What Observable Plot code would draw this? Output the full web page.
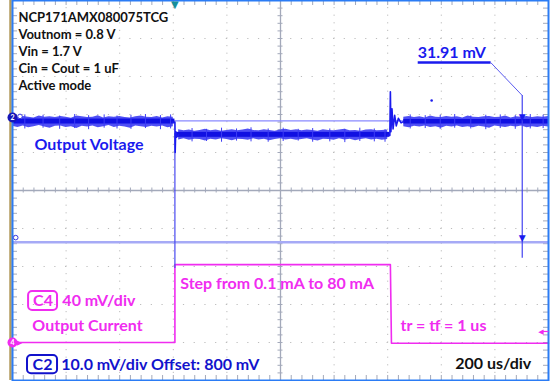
<!DOCTYPE html>
<html><head><meta charset="utf-8">
<script src="https://cdn.jsdelivr.net/npm/d3@7"></script>
<script src="https://cdn.jsdelivr.net/npm/@observablehq/plot@0.6"></script>
<style>body{margin:0;background:#fff} svg{display:block}</style>
</head><body><div id="chart"></div>
<script>
// ---- scope layout: 10 x 10 divisions, y in divisions from centre ----
const gridX = [1, 2, 3, 4, 6, 7, 8, 9];
const gridY = [-4, -3, -2, -1, 1, 2, 3, 4];
const minorX = d3.range(0, 10.001, 0.2);
const minorY = d3.range(-5, 5.001, 0.2);

// ---- C2 output voltage (divisions), noise envelope ----
const tA0 = 0.0, tB0 = 3.1, tC0 = 7.3, dt = 0.1;
const upperA = [1.94,1.92,1.95,1.93,1.91,1.96,1.93,1.94,1.92,1.95,1.93,1.90,1.96,1.94,1.92,1.93,1.97,1.91,1.94,1.93,1.95,1.92,1.91,1.94,1.96,1.93,1.92,1.95,1.91,1.94,1.93];
const lowerA = [1.69,1.66,1.70,1.65,1.68,1.71,1.67,1.64,1.69,1.70,1.66,1.68,1.63,1.69,1.67,1.70,1.65,1.68,1.71,1.66,1.69,1.67,1.64,1.70,1.68,1.66,1.69,1.67,1.70,1.65,1.68];
const upperB = [1.60,1.57,1.59,1.56,1.58,1.61,1.57,1.59,1.56,1.58,1.60,1.57,1.59,1.62,1.58,1.57,1.60,1.58,1.56,1.59,1.61,1.58,1.60,1.57,1.59,1.58,1.56,1.60,1.58,1.57,1.59,1.61,1.57,1.58,1.56,1.59,1.60,1.57,1.58,1.59];
const lowerB = [1.33,1.36,1.32,1.35,1.34,1.30,1.35,1.33,1.36,1.34,1.31,1.35,1.34,1.32,1.36,1.33,1.35,1.31,1.34,1.36,1.33,1.35,1.32,1.34,1.36,1.33,1.30,1.35,1.34,1.32,1.36,1.33,1.35,1.31,1.34,1.36,1.33,1.35,1.32,1.34];
const upperC = [1.93,1.95,1.92,1.94,1.91,1.96,1.93,1.92,1.95,1.93,1.94,1.91,1.96,1.93,1.92,1.94,1.95,1.92,1.93,1.96,1.91,1.94,1.93,1.95,1.92,1.94,1.93,1.95];
const lowerC = [1.68,1.65,1.69,1.67,1.70,1.66,1.68,1.64,1.69,1.67,1.70,1.66,1.68,1.65,1.69,1.67,1.64,1.70,1.68,1.66,1.69,1.67,1.70,1.65,1.68,1.66,1.69,1.67];
// dense core of the noise band per segment [from, to, low, high]
const coreSeg = [[0, 3.03, 1.75, 1.88], [3.06, 7.04, 1.40, 1.53], [7.3, 10, 1.75, 1.87]];
// isolated noise spikes [t, low, high]
const spikes = [
  [0.23,1.62,1.99],[0.57,1.64,1.98],[0.88,1.61,1.96],[1.16,1.63,2.0],[1.42,1.60,1.97],[1.71,1.64,1.99],[1.95,1.62,1.96],
  [2.21,1.61,1.98],[2.48,1.63,2.0],[2.76,1.60,1.97],[2.95,1.62,1.99],
  [3.35,1.28,1.63],[3.62,1.29,1.61],[3.9,1.27,1.64],[4.18,1.30,1.62],[4.45,1.28,1.65],[4.77,1.27,1.62],[5.05,1.29,1.64],
  [5.33,1.30,1.61],[5.6,1.27,1.63],[5.92,1.28,1.62],[6.2,1.26,1.61],[6.48,1.29,1.64],[6.75,1.28,1.62],[6.95,1.27,1.60],
  [7.42,1.62,1.99],[7.7,1.63,1.97],[7.98,1.61,1.98],[8.25,1.64,2.0],[8.55,1.62,1.96],[8.83,1.60,1.98],[9.1,1.63,1.99],
  [9.38,1.61,1.97],[9.66,1.62,2.0],[9.9,1.63,1.98]
];
const dropT = [[2.98,1.80],[3.03,1.80],[3.035,1.0],[3.045,1.55],[3.06,1.40],[3.1,1.47]];
const riseT = [[7.0,1.46],[7.04,1.45],[7.05,2.6],[7.06,1.55],[7.08,2.15],[7.10,1.62],[7.13,1.98],[7.16,1.70],[7.2,1.9],[7.25,1.78],[7.3,1.82]];

// ---- C4 output current (divisions) ----
const currT = [0, 3.03, 3.03, 7.05, 7.07, 10];
const currV = [-4.0, -4.0, -1.95, -1.95, -4.02, -4.02];

// ---- cursors ----
const cursorY = [1.83, -1.36];
const cursorX = 9.51;
const cursorLabel = "31.91 mV";
const trigX = 3.03;

// ---- labels ----
const infoLines = ["NCP171AMX080075TCG", "Voutnom = 0.8 V", "Vin = 1.7 V", "Cin = Cout = 1 uF", "Active mode"];
const infoY = [4.55, 4.105, 3.65, 3.21, 2.765];

const band = (t0, up, lo) => up.map((u, i) => ({t: t0 + i * dt, hi: u, lo: lo[i]}));
const bandA = band(tA0, upperA, lowerA), bandB = band(tB0, upperB, lowerB), bandC = band(tC0, upperC, lowerC);
const curr = currT.map((t, i) => ({t, v: currV[i]}));

const BLUE = "#1a1aee", EDGE = "#3c3cf4", MAG = "#f02cf0", NAVY = "#1212cc";
const px = 1 / 53.6, py = 1 / 38;

const chart = Plot.plot({
  width: 553, height: 381,
  marginLeft: 12, marginRight: 5, marginTop: 0, marginBottom: 1,
  x: {domain: [0, 10], axis: null},
  y: {domain: [-5, 5], axis: null},
  style: {fontFamily: "Lato", background: "#fff", overflow: "visible"},
  marks: [
    // dotted grid
    Plot.ruleX(gridX, {stroke: "#bcbcbc", strokeWidth: 1, strokeDasharray: "1.2,6.4", strokeDashoffset: 0.6}),
    Plot.ruleY(gridY, {stroke: "#bcbcbc", strokeWidth: 1, strokeDasharray: "1.2,9.52", strokeDashoffset: 0.6}),
    // centre axes
    Plot.ruleX([5], {stroke: "#a3a9ba", strokeWidth: 1.3}),
    Plot.ruleY([0], {stroke: "#a3a9ba", strokeWidth: 1.3}),
    Plot.ruleX(minorX, {x: d => d, y1: 2.5 * py, y2: -2.5 * py, stroke: "#a3a9ba", strokeWidth: 1}),
    Plot.ruleY(minorY, {y: d => d, x1: 5 - 2.5 * px, x2: 5 + 2.5 * px, stroke: "#a3a9ba", strokeWidth: 1}),
    // edge ticks
    Plot.ruleX(minorX, {x: d => d, y1: 5, y2: 5 - 5 * py, stroke: "#a3a9ba"}),
    Plot.ruleX(minorX, {x: d => d, y1: -5, y2: -5 + 5 * py, stroke: "#a3a9ba"}),
    Plot.ruleY(minorY, {y: d => d, x1: 0, x2: 5 * px, stroke: "#a3a9ba"}),
    Plot.ruleY(minorY, {y: d => d, x1: 10, x2: 10 - 5 * px, stroke: "#a3a9ba"}),

    // cursors
    Plot.ruleY([cursorY[0]], {stroke: "#8a8aff", strokeWidth: 1.2}),
    Plot.ruleY([cursorY[1]], {stroke: "#a6aaf6", strokeWidth: 2.6}),

    // C4 trace
    Plot.line(curr, {x: "t", y: "v", stroke: MAG, strokeWidth: 1.6}),

    // trigger link line
    Plot.ruleX([trigX], {y1: 1.5, y2: -2.05, stroke: "#4848f0", strokeWidth: 1.2}),

    // C2 trace
    Plot.areaY(bandA, {x: "t", y1: "lo", y2: "hi", fill: EDGE, fillOpacity: 0.9}),
    Plot.areaY(bandB, {x: "t", y1: "lo", y2: "hi", fill: EDGE, fillOpacity: 0.9}),
    Plot.areaY(bandC, {x: "t", y1: "lo", y2: "hi", fill: EDGE, fillOpacity: 0.9}),
    Plot.rect(coreSeg, {x1: d => d[0], x2: d => d[1], y1: d => d[2], y2: d => d[3], fill: "#1010e2"}),
    Plot.ruleX(spikes, {x: d => d[0], y1: d => d[1], y2: d => d[2], stroke: EDGE, strokeWidth: 1}),
    Plot.line(dropT, {x: d => d[0], y: d => d[1], stroke: BLUE, strokeWidth: 1.6}),
    Plot.line(riseT, {x: d => d[0], y: d => d[1], stroke: BLUE, strokeWidth: 1.6}),
    Plot.dot([[7.82, 2.37]], {x: d => d[0], y: d => d[1], r: 1.3, fill: BLUE}),

    // vertical cursor + label
    Plot.ruleX([cursorX], {y1: 2.5, y2: -1.78, stroke: "#4444f0", strokeWidth: 1.2}),
    Plot.text([cursorY[0], cursorY[1]], {x: cursorX, y: d => d, text: () => "▼", fill: BLUE, fontSize: 9, fontFamily: "DejaVu Sans", dy: -4}),
    Plot.link([0], {x1: 7.56, x2: 8.92, y1: 3.37, y2: 3.37, stroke: BLUE, strokeWidth: 2.5}),
    Plot.link([0], {x1: 8.92, y1: 3.37, x2: cursorX, y2: 2.5, stroke: "#5a5af0", strokeWidth: 1}),
    Plot.text([cursorLabel], {x: 7.56, y: 3.62, text: d => d, textAnchor: "start", fill: BLUE, fontSize: 16, fontWeight: 700}),

    // info text
    Plot.text(infoLines, {x: 0.11, y: (d, i) => infoY[i], text: d => d, textAnchor: "start", fill: "#111", fontSize: 13, fontWeight: 700}),
    Plot.text(["Output Voltage"], {x: 0.41, y: 1.21, text: d => d, textAnchor: "start", fill: BLUE, fontSize: 16, fontWeight: 700}),
    Plot.text(["Step from 0.1 mA to 80 mA"], {x: 3.13, y: -2.45, text: d => d, textAnchor: "start", fill: MAG, fontSize: 16, fontWeight: 700}),
    Plot.rect([0], {x1: 0.30, x2: 0.84, y1: -2.66, y2: -3.16, stroke: MAG, strokeWidth: 2, fill: "none", rx: 4}),
    Plot.text(["C4"], {x: 0.57, y: -2.91, text: d => d, fill: MAG, fontSize: 16, fontWeight: 700}),
    Plot.text(["40 mV/div"], {x: 0.93, y: -2.91, text: d => d, textAnchor: "start", fill: MAG, fontSize: 16, fontWeight: 700}),
    Plot.text(["Output Current"], {x: 0.37, y: -3.55, text: d => d, textAnchor: "start", fill: MAG, fontSize: 16, fontWeight: 700}),
    Plot.text(["tr = tf = 1 us"], {x: 7.24, y: -3.55, text: d => d, textAnchor: "start", fill: MAG, fontSize: 16, fontWeight: 700}),
    Plot.rect([0], {x1: 0.28, x2: 0.84, y1: -4.34, y2: -4.82, stroke: NAVY, strokeWidth: 2, fill: "none", rx: 4}),
    Plot.text(["C2"], {x: 0.56, y: -4.58, text: d => d, fill: NAVY, fontSize: 16, fontWeight: 700}),
    Plot.text(["10.0 mV/div Offset: 800 mV"], {x: 0.91, y: -4.58, text: d => d, textAnchor: "start", fill: NAVY, fontSize: 16, fontWeight: 700}),
    Plot.text(["200 us/div"], {x: 8.26, y: -4.55, text: d => d, textAnchor: "start", fill: "#111", fontSize: 16, fontWeight: 700}),

    // frame
    Plot.ruleX([0], {dx: -2, stroke: "#b39b5e", strokeWidth: 2.5}),
    Plot.frame({stroke: "#2b7cf5", strokeWidth: 2}),

    // channel markers
    Plot.dot([[0, 1.92]], {x: d => d[0], y: d => d[1], r: 5, fill: "#1616b8"}),
    Plot.dot([[0.14, 1.95]], {x: d => d[0], y: d => d[1], r: 2.3, stroke: "#3a3ae0", fill: "#fff", strokeWidth: 1}),
    Plot.text(["2"], {x: 0, y: 1.92, text: d => d, fill: "#fff", fontSize: 7, fontWeight: 700}),
    Plot.dot([[0.06, -1.24]], {x: d => d[0], y: d => d[1], r: 2.3, stroke: "#3a3ae0", fill: "#fff", strokeWidth: 1}),
    Plot.dot([[0, -4.0]], {x: d => d[0], y: d => d[1], r: 5, fill: MAG}),
    Plot.text(["4"], {x: 0, y: -4.0, text: d => d, fill: "#fff", fontSize: 7, fontWeight: 700}),
    Plot.text(["▶"], {x: 0.13, y: -4.0, text: d => d, fill: MAG, fontSize: 7, fontFamily: "DejaVu Sans"}),
    Plot.link([0], {x1: 9.86, x2: 10, y1: -3.71, y2: -3.71, stroke: MAG, strokeWidth: 1.2}),
    Plot.text(["◀"], {x: 9.86, y: -3.71, text: d => d, fill: MAG, fontSize: 7, fontFamily: "DejaVu Sans"}),
    Plot.text(["▼"], {x: trigX, y: 5, text: d => d, fill: "#178f9a", fontSize: 10, fontFamily: "DejaVu Sans", dy: 4})
  ]
});
document.getElementById("chart").append(chart);
</script></body></html>
